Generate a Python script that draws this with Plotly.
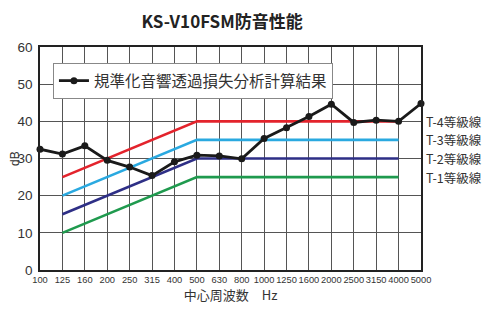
import plotly.graph_objects as go

freqs = ["100", "125", "160", "200", "250", "315", "400", "500", "630", "800",
         "1000", "1250", "1600", "2000", "2500", "3150", "4000", "5000"]
measured = [32.5, 31.2, 33.4, 29.5, 27.7, 25.4, 29.1, 30.9, 30.7, 29.9,
            35.4, 38.3, 41.3, 44.6, 39.7, 40.3, 40.0, 44.8]

grade_freqs = ["125", "500", "4000"]
grades = {
    "T-4等級線": [25, 40, 40],
    "T-3等級線": [20, 35, 35],
    "T-2等級線": [15, 30, 30],
    "T-1等級線": [10, 25, 25],
}
grade_colors = {
    "T-4等級線": "#e3232c",
    "T-3等級線": "#2aa9e0",
    "T-2等級線": "#2e2f86",
    "T-1等級線": "#1f9a4e",
}

fig = go.Figure()
for name, vals in grades.items():
    fig.add_trace(go.Scatter(x=grade_freqs, y=vals, mode="lines",
                             line=dict(color=grade_colors[name], width=2.6),
                             showlegend=False, hoverinfo="skip"))
fig.add_trace(go.Scatter(x=freqs, y=measured, mode="lines+markers",
                         name="規準化音響透過損失分析計算結果",
                         line=dict(color="#1a1a1a", width=2.8),
                         marker=dict(color="#1a1a1a", size=7),
                         cliponaxis=False))

for name, vals in grades.items():
    fig.add_annotation(x=1.008, xref="paper", y=vals[-1], yref="y",
                       text=name, showarrow=False, xanchor="left",
                       font=dict(size=12.5, color="#333333",
                                 family="Noto Sans CJK JP, sans-serif"))

fig.add_annotation(x=-0.067, xref="paper", y=0.5, yref="paper", text="dB",
                   textangle=-90, showarrow=False, xanchor="center", yanchor="middle",
                   font=dict(size=12, color="#333333",
                             family="Liberation Sans, Arial, sans-serif"))

fig.update_layout(
    width=491, height=303,
    margin=dict(l=32, r=78, t=39, b=41, autoexpand=False),
    paper_bgcolor="white", plot_bgcolor="white",
    title=dict(text="<b>KS-V10FSM防音性能</b>", x=0.436, xanchor="center",
               y=0.954, yanchor="middle",
               font=dict(size=17, color="#222222",
                         family="Noto Sans CJK JP, sans-serif")),
    font=dict(family="Noto Sans CJK JP, sans-serif", color="#333333"),
    legend=dict(x=0.034, y=0.928, xanchor="left", yanchor="top",
                bgcolor="white", bordercolor="#888888", borderwidth=1,
                font=dict(size=15.5, color="#333333")),
    xaxis=dict(type="category", categoryorder="array", categoryarray=freqs,
               range=[0, 17], showgrid=True, gridcolor="#555555", gridwidth=1,
               showline=True, linecolor="#222222", linewidth=1.5, mirror=True,
               tickangle=0, ticks="", automargin=False,
               tickfont=dict(size=9.3, family="Liberation Sans, Arial, sans-serif",
                             color="#333333"),
               title=dict(text="中心周波数　Hz", standoff=5,
                          font=dict(size=13, color="#333333"))),
    yaxis=dict(range=[0, 60], dtick=10, showgrid=True, gridcolor="#555555",
               gridwidth=1, showline=True, linecolor="#222222", linewidth=1.5,
               mirror=True, ticks="", zeroline=False, automargin=False,
               ticklabelstandoff=3,
               tickfont=dict(size=13.5, color="#333333", family="Liberation Sans, Arial, sans-serif")),
)

fig.write_html("out.html")
